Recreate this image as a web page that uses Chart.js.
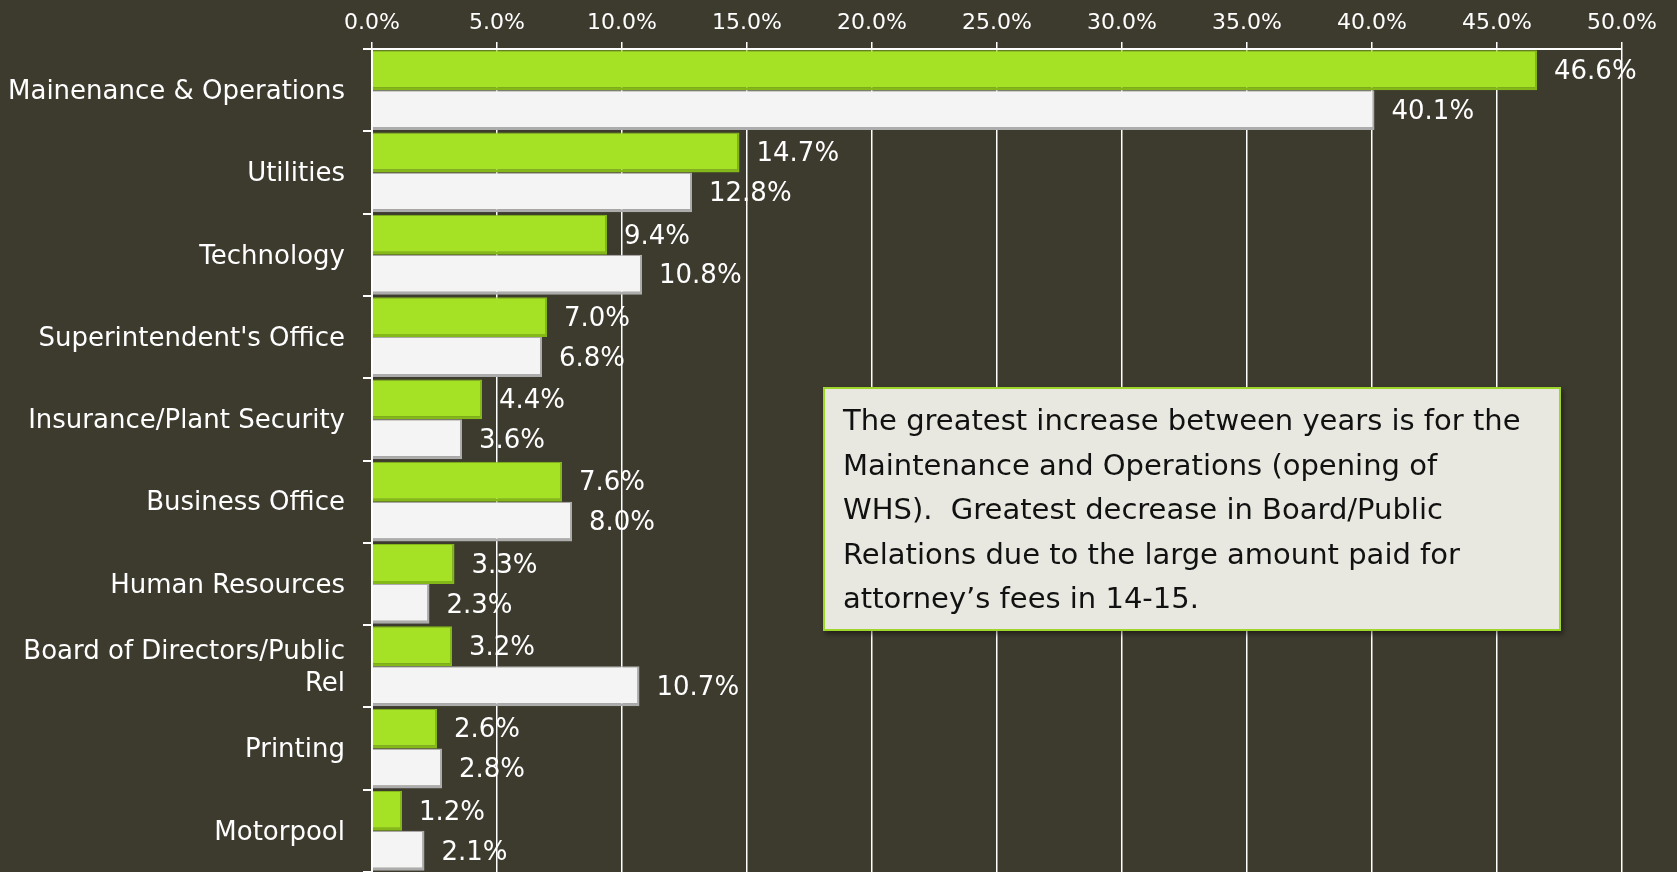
<!DOCTYPE html>
<html>
<head>
<meta charset="utf-8">
<title>Department budget share</title>
<script src="https://cdn.jsdelivr.net/npm/chart.js@4"></script>
<style>
    html, body { margin: 0; padding: 0; background: #3d3a2e; }
    #wrap { position: relative; width: 1677px; height: 872px; overflow: hidden; }
    #wrap canvas { display: block; }
    #note {
        position: absolute;
        left: 823px; top: 387px;
        width: 698px; height: 226px;
        padding: 9px 18px 5px 18px;
        background: #e8e8e0;
        border: 2px solid #9fd62a;
        box-shadow: 2px 3px 5px rgba(0,0,0,0.45);
        font-family: "DejaVu Sans", sans-serif;
        font-size: 29px;
        line-height: 44.5px;
        color: #111;
        white-space: nowrap;
    }
</style>
</head>
<body>
<div id="wrap">
    <canvas id="budgetChart" width="1677" height="872"></canvas>
    <div id="note">The greatest increase between years is for the<br>Maintenance and Operations (opening of<br>WHS).&nbsp; Greatest decrease in Board/Public<br>Relations due to the large amount paid for<br>attorney’s fees in 14-15.</div>
</div>

<script>
var categories = [
    "Mainenance & Operations",
    "Utilities",
    "Technology",
    "Superintendent's Office",
    "Insurance/Plant Security",
    "Business Office",
    "Human Resources",
    ["Board of Directors/Public", "Rel"],
    "Printing",
    "Motorpool"
];

// green bars (current year) and white bars (prior year), percent of total
var greenValues = [46.6, 14.7, 9.4, 7.0, 4.4, 7.6, 3.3, 3.2, 2.6, 1.2];
var whiteValues = [40.1, 12.8, 10.8, 6.8, 3.6, 8.0, 2.3, 10.7, 2.8, 2.1];

var xTicks = [0, 5, 10, 15, 20, 25, 30, 35, 40, 45, 50];

// writes the value next to the end of each bar
var valueLabels = {
    id: 'valueLabels',
    afterDatasetsDraw: function (chart) {
        var ctx = chart.ctx;
        ctx.save();
        ctx.font = '26px "DejaVu Sans", sans-serif';
        ctx.fillStyle = '#ffffff';
        ctx.textBaseline = 'middle';
        ctx.textAlign = 'left';
        chart.data.datasets.forEach(function (ds, i) {
            chart.getDatasetMeta(i).data.forEach(function (bar, j) {
                ctx.fillText(ds.data[j].toFixed(1) + '%', bar.x + 17, bar.y + 2);
            });
        });
        ctx.restore();
    }
};

new Chart(document.getElementById("budgetChart"), {
    type: 'bar',
    data: {
        labels: categories,
        datasets: [{
            label: 'Current',
            data: greenValues,
            backgroundColor: '#a5e226',
            borderColor: '#84b818',
            borderWidth: { top: 1, right: 2, bottom: 3, left: 0 },
            borderSkipped: false,
            categoryPercentage: 0.97,
            barPercentage: 1.0
        }, {
            label: 'Prior',
            data: whiteValues,
            backgroundColor: '#f4f4f4',
            borderColor: '#acacac',
            borderWidth: { top: 1, right: 2, bottom: 3, left: 0 },
            borderSkipped: false,
            categoryPercentage: 0.97,
            barPercentage: 1.0
        }]
    },
    options: {
        indexAxis: 'y',
        responsive: false,
        animation: false,
        devicePixelRatio: 1,
        layout: {
            padding: { left: 0, right: 55, top: 0, bottom: 0 }
        },
        plugins: {
            legend: { display: false },
            tooltip: { enabled: false }
        },
        scales: {
            x: {
                position: 'top',
                min: 0,
                max: 50,
                afterBuildTicks: function (scale) {
                    scale.ticks = xTicks.map(function (v) { return { value: v }; });
                },
                afterFit: function (scale) {
                    scale.height = 49;
                    scale.paddingLeft = 0;
                    scale.paddingRight = 0;
                },
                ticks: {
                    color: '#ffffff',
                    font: { family: 'DejaVu Sans', size: 22 },
                    padding: 6,
                    maxRotation: 0,
                    callback: function (v) { return v.toFixed(1) + '%'; }
                },
                grid: {
                    color: '#ffffff',
                    lineWidth: 1.5,
                    tickLength: 7
                },
                border: { color: '#ffffff', width: 2 }
            },
            y: {
                afterFit: function (scale) {
                    scale.width = 372;
                    scale.paddingTop = 0;
                    scale.paddingBottom = 0;
                },
                ticks: {
                    color: '#ffffff',
                    font: { family: 'DejaVu Sans', size: 26 },
                    padding: 18,
                    labelOffset: 2
                },
                grid: {
                    offset: true,
                    drawOnChartArea: false,
                    color: '#ffffff',
                    lineWidth: 2,
                    tickLength: 9
                },
                border: { color: '#ffffff', width: 2 }
            }
        }
    },
    plugins: [valueLabels]
});
</script>
</body>
</html>
